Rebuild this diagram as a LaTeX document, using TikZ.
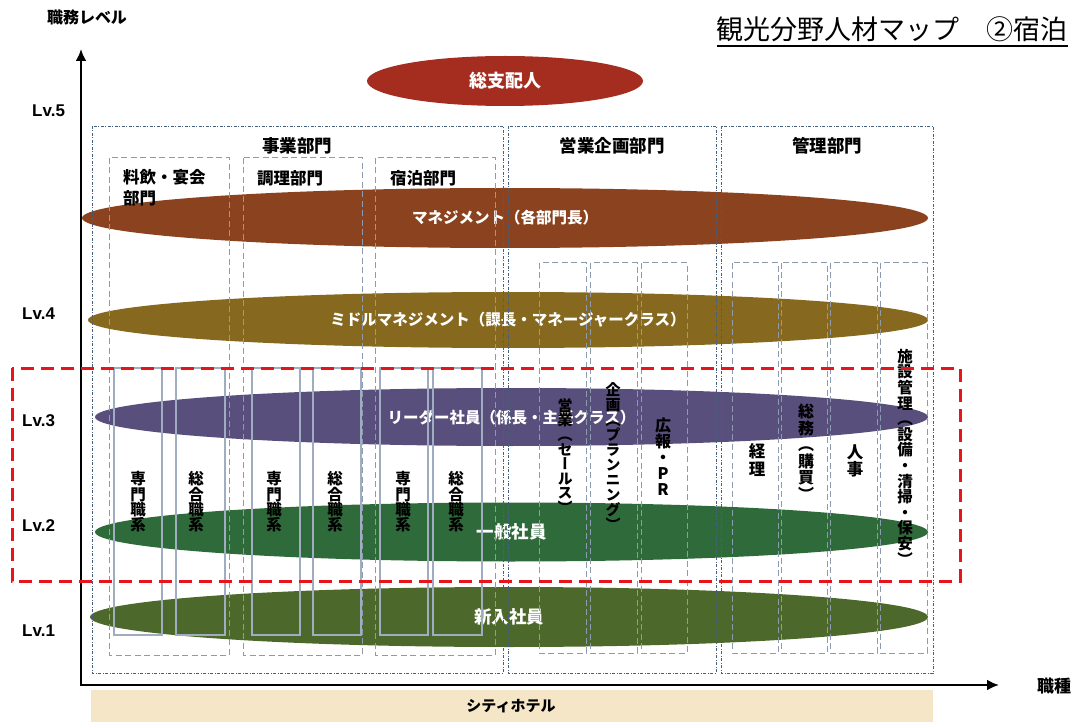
\documentclass[tikz,border=0pt]{standalone}
\usepackage{fontspec}
\setmainfont{Noto Sans CJK JP}
\newfontfamily\lvfont{Liberation Sans}
\newfontfamily\vjp{Noto Sans CJK JP}[RawFeature=+vert]
\usetikzlibrary{shapes.geometric,arrows.meta}

\definecolor{bossred}{RGB}{165,45,32}
\definecolor{mgmtbrown}{RGB}{139,66,30}
\definecolor{midolive}{RGB}{134,104,30}
\definecolor{leadpurple}{RGB}{89,79,124}
\definecolor{staffgreen}{RGB}{46,106,58}
\definecolor{newgreen}{RGB}{76,104,42}
\definecolor{deptline}{RGB}{70,95,125}
\definecolor{sectline}{RGB}{140,155,176}
\definecolor{jobline}{RGB}{160,172,192}
\definecolor{hotelbg}{RGB}{245,230,200}
\definecolor{mapred}{RGB}{232,20,25}

\tikzset{
  band/.style={ellipse, inner sep=0pt, text=white, font=\bfseries\fontsize{15.5}{18}\selectfont},
  deptbox/.style={draw=deptline, line width=0.8pt, dash pattern=on 3pt off 1.5pt on 1pt off 1.5pt},
  sectbox/.style={draw=sectline, line width=1pt, dash pattern=on 6pt off 3.5pt},
  jobbox/.style={draw=jobline, line width=1.4pt},
  vlab/.style={inner sep=0pt, align=center, font=\vjp\bfseries\fontsize{15.5}{15.4}\selectfont},
  head/.style={inner sep=0pt, font=\bfseries\fontsize{17.5}{20}\selectfont},
  sub/.style={inner sep=0pt, anchor=west, font=\bfseries\fontsize{16.5}{20}\selectfont},
  lvl/.style={inner sep=0pt, anchor=west, font=\lvfont\bfseries\fontsize{17}{20}\selectfont},
  axis/.style={line width=2.6pt, {Latex[length=12pt,width=11pt]}-{Latex[length=12pt,width=11pt]}},
}

\begin{document}
\begin{tikzpicture}[x=1pt,y=-1pt]
 \useasboundingbox (0,0) rectangle (1072,722);
 % title and axis names
 \node[inner sep=0pt, anchor=base east, font=\fontsize{27}{30}\selectfont] (title) at (1068,40) {観光分野人材マップ　②宿泊};
 \draw[line width=1.3pt] ([yshift=-6pt]title.base west) -- ([yshift=-6pt]title.base east);
 \node[inner sep=0pt, font=\bfseries\fontsize{16}{18}\selectfont] (yname) at (87,17) {職務レベル};
 \node[inner sep=0pt, font=\bfseries\fontsize{17}{18}\selectfont] (xname) at (1054,686) {職種};
 % hotel band
 \fill[hotelbg] (91,690) rectangle (933,722);
 \node[head, font=\bfseries\fontsize{15}{18}\selectfont] (hotel) at (511,706) {シティホテル};
 % axes
 \coordinate (origin) at (81,685);
 \coordinate (ytop) at (81,49);
 \coordinate (xend) at (999,685);
 \draw[axis] (ytop) -- (origin) -- (xend);
 % levels
 \node[lvl] (lv5) at (32,111) {Lv.5};
 \node[lvl] (lv4) at (22,314) {Lv.4};
 \node[lvl] (lv3) at (22,421) {Lv.3};
 \node[lvl] (lv2) at (22,526) {Lv.2};
 \node[lvl] (lv1) at (22,631) {Lv.1};
 % job level bands
 \node[band, fill=bossred, minimum width=276pt, minimum height=50pt, font=\bfseries\fontsize{18}{20}\selectfont] (boss) at (505,81) {総支配人};
 \node[band, fill=mgmtbrown, minimum width=846pt, minimum height=60pt] (mgmt) at (505,218) {マネジメント（各部門長）};
 \node[band, fill=midolive, minimum width=840pt, minimum height=56pt] (middle) at (508,320) {ミドルマネジメント（課長・マネージャークラス）};
 \node[band, fill=leadpurple, minimum width=833pt, minimum height=58pt] (leader) at (511.5,417) {リーダー社員（係長・主任クラス）};
 \node[band, fill=staffgreen, minimum width=833pt, minimum height=59pt, font=\bfseries\fontsize{17.5}{20}\selectfont] (staff) at (511.5,532) {一般社員};
 \node[band, fill=newgreen, minimum width=838pt, minimum height=60pt, font=\bfseries\fontsize{17.5}{20}\selectfont] (newhire) at (509,617) {新入社員};
 % departments
 \draw[deptbox] (92,126) rectangle (503,673);
 \draw[deptbox] (508,126) rectangle (716,673);
 \draw[deptbox] (721,126) rectangle (933,673);
 \node[head] (jigyo) at (297,146) {事業部門};
 \node[head] (eigyo) at (612,146) {営業企画部門};
 \node[head] (kanri) at (827,146) {管理部門};
 % sections
 \draw[sectbox] (109,158) rectangle (229,655);
 \draw[sectbox] (243,158) rectangle (362,655);
 \draw[sectbox] (375,158) rectangle (495,655);
 \node[sub, anchor=north west, align=left, font=\bfseries\fontsize{16.5}{21}\selectfont] (ryoin) at (123,169) {料飲・宴会\\部門};
 \node[sub] (chori) at (257,178) {調理部門};
 \node[sub] (shuku) at (390,178) {宿泊部門};
 \foreach \l/\r in {539/586, 590/637, 641/687, 732/778, 781/827, 830/877, 880/927}
   \draw[sectbox] (\l,263) rectangle (\r,653);
 % job tracks
 \foreach \l/\r in {114/162, 176/225, 252/300, 313/361, 380/428, 433/482}
   \draw[jobbox] (\l,368) rectangle (\r,635);
 \node[vlab] (sen1) at (138,502) {専\\門\\職\\系};
 \node[vlab] (sou1) at (196,502) {総\\合\\職\\系};
 \node[vlab] (sen2) at (274,502) {専\\門\\職\\系};
 \node[vlab] (sou2) at (335,502) {総\\合\\職\\系};
 \node[vlab] (sen3) at (403,502) {専\\門\\職\\系};
 \node[vlab] (sou3) at (456,502) {総\\合\\職\\系};
 \node[vlab, font=\vjp\bfseries\fontsize{15}{14.6}\selectfont] (sales) at (565,456) {営\\業\\（\\セ\\ー\\ル\\ス\\）};
 \node[vlab, font=\vjp\bfseries\fontsize{15}{15}\selectfont] (plan) at (613,457) {企\\画\\（\\プ\\ラ\\ン\\ニ\\ン\\グ\\）};
 \node[vlab, font=\vjp\bfseries\fontsize{16}{16}\selectfont] (pr) at (663,457) {広\\報\\・\\P\\R};
 \node[vlab, font=\vjp\bfseries\fontsize{16.5}{17.5}\selectfont] (keiri) at (757,460) {経\\理};
 \node[vlab, font=\vjp\bfseries\fontsize{16}{16.5}\selectfont] (somu) at (806,452) {総\\務\\（\\購\\買\\）};
 \node[vlab, font=\vjp\bfseries\fontsize{16.5}{17.5}\selectfont] (jinji) at (855,461) {人\\事};
 \node[vlab, font=\vjp\bfseries\fontsize{15.5}{15.6}\selectfont] (shisetsu) at (905,457) {施\\設\\管\\理\\（\\設\\備\\・\\清\\掃\\・\\保\\安\\）};
 % focus area
 \draw[mapred, line width=3pt, dash pattern=on 13pt off 7pt] (12,368) rectangle (960,581);
\end{tikzpicture}
\end{document}
